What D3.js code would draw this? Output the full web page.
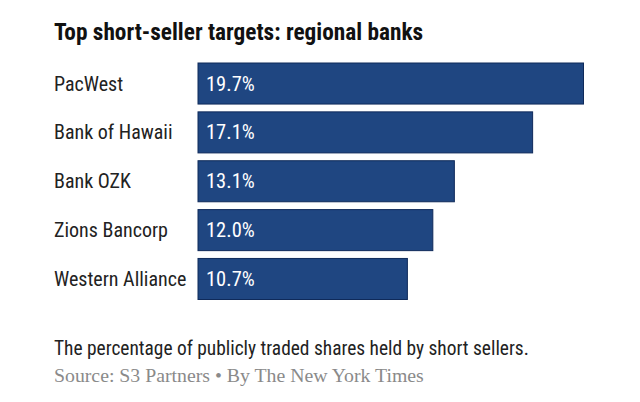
<!DOCTYPE html>
<html><head><meta charset="utf-8">
<script src="https://cdn.jsdelivr.net/npm/d3@7"></script>
<style>body{margin:0;background:#fff}</style>
</head><body>
<script>
const categories = ["PacWest","Bank of Hawaii","Bank OZK","Zions Bancorp","Western Alliance"];
const values = [19.7, 17.1, 13.1, 12.0, 10.7];
const valueLabels = ["19.7%","17.1%","13.1%","12.0%","10.7%"];
const title = "Top short-seller targets: regional banks";
const note = "The percentage of publicly traded shares held by short sellers.";
const source = "Source: S3 Partners \u2022 By The New York Times";

const W = 640, H = 402;
const sans = "'Liberation Sans Narrow','Roboto Condensed','Liberation Sans',sans-serif";
const svg = d3.select("body").append("svg").attr("width", W).attr("height", H);

const x = d3.scaleLinear().domain([0, 19.7]).range([198, 583.5]);
const y = d3.scaleBand().domain(categories).range([63, 299.5]).paddingInner(0.16).paddingOuter(0);

svg.append("text").attr("x", 54).attr("y", 40).text(title)
  .attr("font-family", sans).attr("font-weight", "bold").attr("font-size", 23.3).attr("fill", "#111");

const g = svg.append("g");
g.selectAll("rect").data(values).join("rect")
  .attr("x", x(0)).attr("y", (d, i) => y(categories[i]))
  .attr("width", d => x(d) - x(0)).attr("height", y.bandwidth())
  .attr("fill", "#1f4681").attr("stroke", "#0f2a5a").attr("stroke-width", 1);

g.selectAll("text.cat").data(categories).join("text").attr("class", "cat")
  .attr("x", 54).attr("y", d => y(d) + y.bandwidth() / 2 + 7).text(d => d)
  .attr("font-family", sans).attr("font-size", 20).attr("fill", "#222");

g.selectAll("text.val").data(values).join("text").attr("class", "val")
  .attr("x", 206).attr("y", (d, i) => y(categories[i]) + y.bandwidth() / 2 + 7).text((d, i) => valueLabels[i])
  .attr("font-family", sans).attr("font-size", 20.5).attr("fill", "#fff");

svg.append("text").attr("x", 54).attr("y", 355).text(note)
  .attr("font-family", sans).attr("font-size", 19.4).attr("fill", "#222");
svg.append("text").attr("x", 54).attr("y", 382).text(source)
  .attr("font-family", "'Liberation Serif','DejaVu Serif',serif").attr("font-size", 19.8).attr("fill", "#8a8a8a");
</script>
</body></html>
